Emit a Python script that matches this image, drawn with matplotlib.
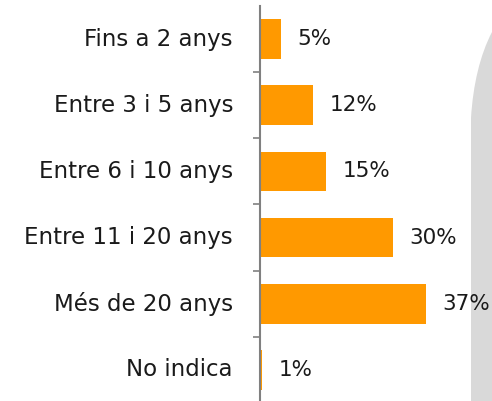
import matplotlib
matplotlib.use('Agg')
import matplotlib.pyplot as plt
from matplotlib.patches import PathPatch
from matplotlib.path import Path

categories = ['Fins a 2 anys', 'Entre 3 i 5 anys', 'Entre 6 i 10 anys',
              'Entre 11 i 20 anys', 'Més de 20 anys', 'No indica']
values = [4.7, 11.8, 14.8, 29.7, 37.0, 0.5]
value_labels = ['5%', '12%', '15%', '30%', '37%', '1%']

W, H = 492, 401
px_per_pct = 4.48
fig = plt.figure(figsize=(W / 100, H / 100), dpi=100)

# grey decorative shape on the right edge
verts = [(471 / W, 0), (471 / W, 1 - 118 / H), (473 / W, 1 - 85 / H),
         (480 / W, 1 - 55 / H), (492 / W, 1 - 32 / H), (1, 0), (471 / W, 0)]
codes = [Path.MOVETO, Path.LINETO, Path.CURVE4, Path.CURVE4, Path.CURVE4,
         Path.LINETO, Path.CLOSEPOLY]
fig.patches.append(PathPatch(Path(verts, codes), transform=fig.transFigure,
                             facecolor='#d9d9d9', edgecolor='none', zorder=0))

ax = fig.add_axes([260 / W, 0, 1 - 260 / W, 395 / H])
ax.set_zorder(2)
ax.patch.set_alpha(0)

y = range(len(categories))
ax.barh(y, values, height=0.6, color='#ff9900')
ax.set_xlim(0, (W - 260) / px_per_pct)
ax.set_ylim(5.47, -0.5)

for i, (v, lab) in enumerate(zip(values, value_labels)):
    ax.annotate(lab, (v, i), xytext=(12, 0), textcoords='offset points',
                ha='left', va='center', fontsize=15.5, color='#1a1a1a')
    ax.text(-27 / px_per_pct, i, categories[i], ha='right', va='center',
            fontsize=16.5, color='#1a1a1a')

for s in ['top', 'right', 'bottom']:
    ax.spines[s].set_visible(False)
ax.spines['left'].set_color('#808080')
ax.spines['left'].set_linewidth(1.5)
ax.set_xticks([])
ax.set_yticks([0.5, 1.5, 2.5, 3.5, 4.5])
ax.set_yticklabels([])
ax.tick_params(axis='y', length=5, width=1.2, color='#808080')

fig.savefig('out.png', dpi=100)
